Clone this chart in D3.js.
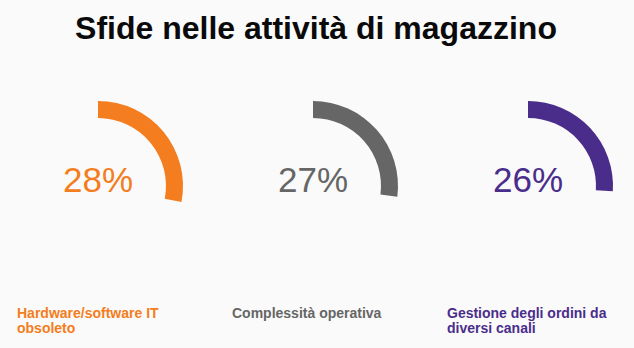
<!DOCTYPE html>
<html>
<head>
<meta charset="utf-8">
<script src="https://cdn.jsdelivr.net/npm/d3@7"></script>
<style>
  html, body { margin: 0; padding: 0; background: #fafafa; }
  svg { display: block; }
</style>
</head>
<body>
<svg id="chart" width="634" height="348"></svg>
<script>
const title = "Sfide nelle attività di magazzino";
const categories = ["Hardware/software IT obsoleto", "Complessità operativa", "Gestione degli ordini da diversi canali"];
const labelLines = [["Hardware/software IT", "obsoleto"], ["Complessità operativa"], ["Gestione degli ordini da", "diversi canali"]];
const values = [28, 27, 26];
const colors = ["#f47d20", "#666666", "#4a2d8b"];

const W = 634, H = 348;
const svg = d3.select("#chart");
svg.append("rect").attr("width", W).attr("height", H).attr("fill", "#fafafa");

svg.append("text")
  .attr("x", 316).attr("y", 39)
  .attr("text-anchor", "middle")
  .attr("font-family", "'Liberation Sans', Arial, Helvetica, sans-serif")
  .attr("font-weight", "bold")
  .attr("font-size", 32)
  .attr("fill", "#0a0a0a")
  .text(title);

const x = d3.scaleBand().domain(categories).range([17, 17 + 215 * 3]).padding(0);
const angle = d3.scaleLinear().domain([0, 100]).range([0, 2 * Math.PI]);
const rOuter = 85, rInner = 68, cy = 186, offset = 81;

const arc = d3.arc().innerRadius(rInner).outerRadius(rOuter).startAngle(0);

const g = svg.selectAll("g.item").data(categories).enter().append("g")
  .attr("class", "item");

g.append("path")
  .attr("transform", d => `translate(${x(d) + offset},${cy})`)
  .attr("d", (d, i) => arc({ endAngle: angle(values[i]) }))
  .attr("fill", (d, i) => colors[i]);

g.append("text")
  .attr("x", d => x(d) + offset)
  .attr("y", 192)
  .attr("text-anchor", "middle")
  .attr("font-family", "'Liberation Sans', Arial, Helvetica, sans-serif")
  .attr("font-size", 35)
  .attr("fill", (d, i) => colors[i])
  .text((d, i) => values[i] + "%");

const lbl = g.append("text")
  .attr("font-family", "'Liberation Sans', Arial, Helvetica, sans-serif")
  .attr("font-weight", "bold")
  .attr("font-size", 14)
  .attr("fill", (d, i) => colors[i]);

lbl.each(function(d, i) {
  const t = d3.select(this);
  labelLines[i].forEach((line, j) => {
    t.append("tspan").attr("x", x(d)).attr("y", 318 + j * 15).text(line);
  });
});
</script>
</body>
</html>
